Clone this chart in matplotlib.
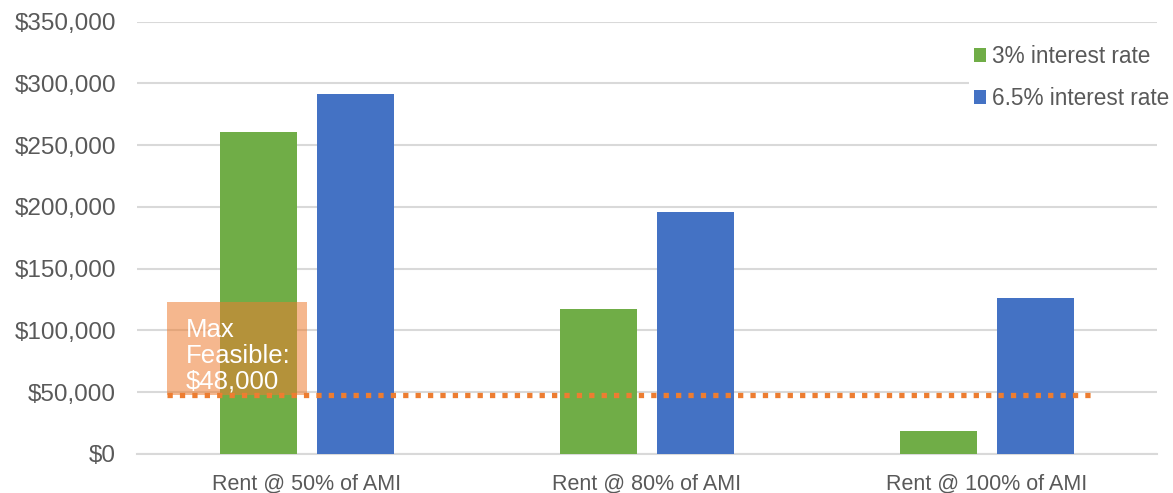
import numpy as np
import matplotlib.pyplot as plt
from matplotlib.ticker import FuncFormatter

plt.rcParams['font.family'] = ['Liberation Sans', 'DejaVu Sans']

# Gap funding needed per unit, by rent level and interest rate
categories = ['Rent @ 50% of AMI', 'Rent @ 80% of AMI', 'Rent @ 100% of AMI']
rate_3 = [261000, 117500, 18500]
rate_65 = [291500, 196000, 126300]
series_names = ['3% interest rate', '6.5% interest rate']
max_feasible = 48000
box_top = 123000

green = '#70AD47'
blue = '#4472C4'
orange = '#ED7D31'
grid_grey = '#D9D9D9'
text_grey = '#595959'

fig = plt.figure(figsize=(11.73, 4.93), dpi=100)
ax = fig.add_axes([137 / 1173, 39 / 493, 1020 / 1173, 432.3 / 493])

x = np.arange(len(categories))
width = 0.226
offset = 0.142
b1 = ax.bar(x - offset, rate_3, width, color=green, zorder=3, label=series_names[0])
b2 = ax.bar(x + offset, rate_65, width, color=blue, zorder=3, label=series_names[1])

ax.set_xlim(-0.5, 2.5)
ax.set_ylim(0, 350000)
ax.set_yticks(np.arange(0, 350001, 50000))
ax.yaxis.set_major_formatter(FuncFormatter(lambda v, p: f'${v:,.0f}'))
ax.set_xticks(x)
ax.set_xticklabels(categories, fontsize=15.5, color=text_grey)

ax.grid(axis='y', color=grid_grey, linewidth=1.5, zorder=0)
for side in ['top', 'right', 'left']:
    ax.spines[side].set_visible(False)
ax.spines['bottom'].set_color(grid_grey)
ax.spines['bottom'].set_linewidth(1.5)
ax.tick_params(axis='y', length=0, pad=15, labelsize=17.5, labelcolor=text_grey)
ax.tick_params(axis='x', length=0, pad=14)

# Max feasible threshold, with its callout box
ax.plot([-0.412, 2.32], [max_feasible, max_feasible], color=orange, linewidth=3.8,
        linestyle=(0, (1, 1.35)), dash_capstyle='butt', zorder=5)
ax.fill_between([-0.412, 0.0], max_feasible, box_top, color=orange, alpha=0.55,
                linewidth=0, zorder=4)
ax.text(-0.356, box_top - 13000, 'Max\nFeasible:\n$48,000', color='white', fontsize=18.5,
        va='top', ha='left', linespacing=1.1, zorder=6)

fig.legend(handles=[b1, b2], loc='upper left', bbox_to_anchor=(958 / 1173, 1 - 29 / 493),
           frameon=True, facecolor='white', edgecolor='none', framealpha=1,
           fontsize=16.3, handlelength=0.55, handleheight=0.55, handletextpad=0.25,
           labelspacing=0.85, borderpad=0.2, labelcolor=text_grey)

fig.savefig('out.png', dpi=100)
